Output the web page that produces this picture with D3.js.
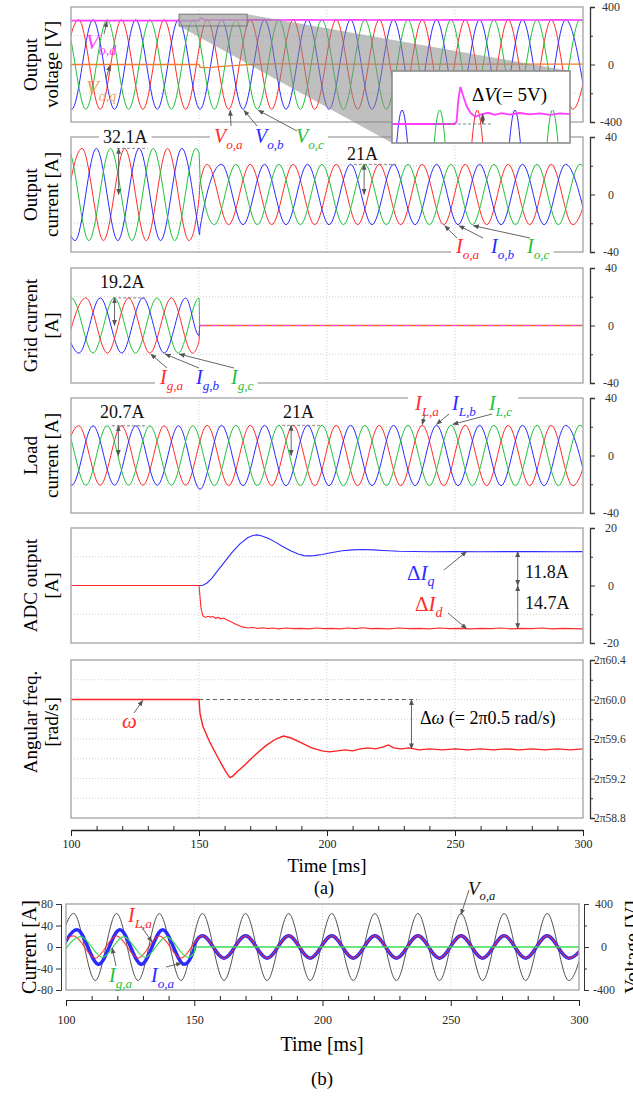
<!DOCTYPE html>
<html>
<head>
<meta charset="utf-8">
<script src="https://cdn.jsdelivr.net/npm/d3@7"></script>
<style>
  body { margin: 0; background: #fff; }
  text { font-family: "Liberation Serif", "Times New Roman", serif; }
</style>
</head>
<body>
<svg id="chart" width="633" height="1097"></svg>
<script>
// extrema of the traces, [time ms, value]
const voA = [[94.7,-312],[103.0,312],[111.4,-312],[119.7,312],[128.1,-312],[136.4,312],[144.8,-312],[153.2,312],[161.6,-312],[170.0,312],[178.4,-312],[186.8,312],[195.2,-312],[203.6,312],[212.0,-312],[220.4,312],[228.8,-312],[237.2,312],[245.6,-312],[254.0,312],[262.4,-312],[270.8,312],[279.2,-312],[287.6,312],[296.0,-312],[304.4,312]];
const voB = [[92.0,312],[100.3,-312],[108.6,312],[117.0,-312],[125.3,312],[133.7,-312],[142.0,312],[150.4,-312],[158.8,312],[167.2,-312],[175.6,312],[184.0,-312],[192.4,312],[200.8,-312],[209.2,312],[217.6,-312],[226.0,312],[234.4,-312],[242.8,312],[251.2,-312],[259.6,312],[268.0,-312],[276.4,312],[284.8,-312],[293.2,312],[301.6,-312]];
const voC = [[89.1,-312],[97.4,312],[105.8,-312],[114.1,312],[122.5,-312],[130.8,312],[139.2,-312],[147.6,312],[156.0,-312],[164.4,312],[172.8,-312],[181.2,312],[189.6,-312],[198.0,312],[206.4,-312],[214.8,312],[223.2,-312],[231.6,312],[240.0,-312],[248.4,312],[256.8,-312],[265.2,312],[273.6,-312],[282.0,312],[290.4,-312],[298.8,312],[307.2,-312]];
const voD = [[100,305],[149.8,305],[150.1,306],[150.4,318],[150.7,323.5],[151.1,319],[151.6,314],[152.2,310.5],[152.9,308.6],[153.8,309.8],[154.8,310.6],[155.8,309.6],[156.8,310.4],[158,309.7],[159.5,310.5],[161,309.8],[162.5,310.3],[164,309.6],[165.5,310.3],[167,309.9],[170,310.2],[180,309.9],[190,310.2],[200,309.9],[210,310.1],[220,309.8],[230,310.2],[240,309.9],[250,310.1],[260,309.8],[270,310.2],[280,309.9],[290,310.1],[300,310]];
const voQ = [[100,0],[150,0],[150.4,-18],[152,-22],[155,-20],[158,-15],[162,-9],[166,-4],[170,0],[175,3],[180,4.5],[190,4],[200,3],[220,2.5],[300,2.5]];

const ilA = [[94.7,-20.7],[103.0,20.7],[111.4,-20.7],[119.7,20.7],[128.1,-20.7],[136.4,20.7],[144.8,-20.7],[153.2,21],[161.6,-21],[170.0,21],[178.4,-21],[186.8,21],[195.2,-21],[203.6,21],[212.0,-21],[220.4,21],[228.8,-21],[237.2,21],[245.6,-21],[254.0,21],[262.4,-21],[270.8,21],[279.2,-21],[287.6,21],[296.0,-21],[304.4,21]];
const ilB = [[92.0,20.7],[100.3,-20.7],[108.6,20.7],[117.0,-20.7],[125.3,20.7],[133.7,-20.7],[142.0,20.7],[150.4,-23.5],[158.8,21],[167.2,-21],[175.6,21],[184.0,-21],[192.4,21],[200.8,-21],[209.2,21],[217.6,-21],[226.0,21],[234.4,-21],[242.8,21],[251.2,-21],[259.6,21],[268.0,-21],[276.4,21],[284.8,-21],[293.2,21],[301.6,-21]];
const ilC = [[89.1,-20.7],[97.4,20.7],[105.8,-20.7],[114.1,20.7],[122.5,-20.7],[130.8,20.7],[139.2,-20.7],[147.6,20.7],[156.0,-21],[164.4,21],[172.8,-21],[181.2,21],[189.6,-21],[198.0,21],[206.4,-21],[214.8,21],[223.2,-21],[231.6,21],[240.0,-21],[248.4,21],[256.8,-21],[265.2,21],[273.6,-21],[282.0,21],[290.4,-21],[298.8,21],[307.2,-21]];

// output current before islanding (after it, output current = load current)
const ioPreA = [[96.0,-32.1],[104.3,32.1],[112.7,-32.1],[121.0,32.1],[129.4,-32.1],[137.7,32.1],[146.1,-32.1],[150.0,-3],[150.4,8]];
const ioPreB = [[93.3,32.1],[101.6,-32.1],[109.9,32.1],[118.3,-32.1],[126.6,32.1],[135.0,-32.1],[143.3,32.1],[150.0,-26],[150.2,-28]];
const ioPreC = [[90.4,-32.1],[98.7,32.1],[107.0,-32.1],[115.4,32.1],[123.8,-32.1],[132.1,32.1],[140.5,-32.1],[148.8,32.1],[150.0,29],[150.5,10]];

const igA = [[97.5,-19.2],[105.8,19.2],[114.2,-19.2],[122.5,19.2],[130.8,-19.2],[139.2,19.2],[147.5,-19.2],[150.0,-11],[150.3,0],[300,0]];
const igB = [[94.8,19.2],[103.1,-19.2],[111.4,19.2],[119.8,-19.2],[128.1,19.2],[136.4,-19.2],[144.8,19.2],[150.0,-7],[150.3,0],[300,0]];
const igC = [[91.9,-19.2],[100.2,19.2],[108.6,-19.2],[116.9,19.2],[125.2,-19.2],[133.6,19.2],[141.9,-19.2],[150.0,19.1],[150.3,0],[300,0]];

const dIq = [[100,0],[150,0],[151.5,0.1],[153,0.8],[155,2.5],[157,4.8],[160,8.2],[163,11.6],[166,14.5],[169,16.6],[171,17.4],[172.5,17.6],[174,17.4],[177,16.4],[180,15],[183,13.4],[186,12],[189,10.9],[191,10.4],[193,10.3],[195,10.4],[198,10.8],[202,11.5],[206,12.1],[210,12.4],[214,12.5],[218,12.4],[222,12.2],[228,11.9],[234,11.8],[240,11.75],[250,11.8],[260,11.75],[270,11.8],[280,11.8],[290,11.75],[300,11.8]];
const dId = [[100,0],[150,0],[150.3,-3],[150.8,-8],[151.5,-10.6],[152.5,-11.1],[153.5,-10.7],[154.5,-11],[155.5,-10.8],[156.5,-11.4],[157.5,-11.1],[158.5,-11.6],[159.5,-11.3],[161,-12],[162.5,-12.6],[164,-13.3],[165.5,-13.9],[167,-14.4],[169,-14.8],[171,-14.6],[173,-14.9],[175,-14.7],[177,-15],[179,-14.8],[181,-15.1],[184,-14.8],[187,-15],[190,-14.9],[193,-15.1],[196,-14.8],[199,-15],[202,-14.9],[205,-15.1],[208,-14.8],[211,-15],[214,-14.7],[217,-15],[220,-14.9],[224,-15.1],[228,-14.8],[232,-15],[236,-14.9],[240,-15.1],[244,-14.8],[248,-15],[252,-14.9],[256,-15.1],[260,-14.9],[264,-15],[268,-14.8],[272,-15.1],[276,-14.9],[280,-15],[284,-14.8],[288,-15.1],[292,-14.9],[296,-15],[300,-15.1]];

// angular frequency in Hz (axis shows 2π×)
const omega = [[100,60.0],[150,60.0],[150.4,59.86],[151.5,59.73],[154,59.58],[157,59.43],[160,59.29],[162,59.21],[163,59.22],[165,59.27],[168,59.34],[172,59.44],[176,59.53],[180,59.6],[183,59.63],[186,59.61],[190,59.56],[194,59.51],[198,59.48],[201,59.47],[204,59.48],[207,59.49],[210,59.48],[213,59.5],[216,59.51],[219,59.5],[222,59.52],[224,59.54],[226,59.51],[229,59.5],[232,59.51],[236,59.49],[240,59.5],[245,59.49],[250,59.5],[255,59.49],[260,59.5],[265,59.49],[270,59.5],[275,59.49],[280,59.5],[285,59.49],[290,59.5],[295,59.49],[300,59.5]];

const timeTicks = [100,150,200,250,300];
const timeMinor = [110,120,130,140,160,170,180,190,210,220,230,240,260,270,280,290];
const timeGrid = [150,200,250];

const RED = "#ff2b2b", BLUE = "#2b2bff", GREEN = "#1fc23a", MAG = "#ff3cff", ORANGE = "#ef7d2f";

const svg = d3.select("#chart");
const defs = svg.append("defs");
defs.append("marker").attr("id", "ah")
  .attr("viewBox", "0 0 10 10").attr("refX", 9).attr("refY", 5)
  .attr("markerWidth", 6).attr("markerHeight", 6)
  .attr("markerUnits", "userSpaceOnUse")
  .attr("orient", "auto-start-reverse")
  .append("path").attr("d", "M0,1L10,5L0,9z").attr("fill", "#555");

const x = d3.scaleLinear().domain([100, 300]).range([71, 583]);
const AXIS_X = 590;

const panelCfg = [
  {id: "vo", top: 7, bottom: 122, domain: [-400, 400], major: [-400, 0, 400], minor: [-200, 200], grid: [-200, 200], title: ["Output", "voltage [V]"]},
  {id: "io", top: 137, bottom: 252, domain: [-40, 40], major: [-40, 0, 40], minor: [-20, 20], grid: [-20, 20], title: ["Output", "current [A]"]},
  {id: "ig", top: 268, bottom: 383, domain: [-40, 40], major: [-40, 0, 40], minor: [-20, 20], grid: [-20, 20], title: ["Grid current", "[A]"]},
  {id: "il", top: 398, bottom: 513, domain: [-40, 40], major: [-40, 0, 40], minor: [-20, 20], grid: [-20, 20], title: ["Load", "current [A]"]},
  {id: "adc", top: 528, bottom: 643, domain: [-20, 20], major: [-20, 0, 20], minor: [-10, 10], grid: [-10, 10], title: ["ADC output", "[A]"]},
  {id: "w", top: 660, bottom: 818, domain: [58.8, 60.4], major: [58.8, 59.2, 59.6, 60.0, 60.4], minor: [59.0, 59.4, 59.8, 60.2],
   grid: [59.0, 59.2, 59.4, 59.6, 59.8, 60.0, 60.2], title: ["Angular freq.", "[rad/s]"], titleY: 722,
   fmt: d => "2π" + d.toFixed(1), start: true}
];

function makePanel(cfg) {
  const g = svg.append("g").attr("class", "panel-" + cfg.id);
  const y = d3.scaleLinear().domain(cfg.domain).range([cfg.bottom, cfg.top]);
  const [x0, x1] = x.range();

  defs.append("clipPath").attr("id", "clip-" + cfg.id).append("rect")
    .attr("x", x0).attr("y", cfg.top).attr("width", x1 - x0).attr("height", cfg.bottom - cfg.top);

  g.selectAll(".vg").data(timeGrid).join("line")
    .attr("x1", d => x(d)).attr("x2", d => x(d)).attr("y1", cfg.top).attr("y2", cfg.bottom)
    .attr("stroke", "#d0d0d0").attr("stroke-dasharray", "1,2");
  g.selectAll(".hg").data(cfg.grid).join("line")
    .attr("x1", x0).attr("x2", x1).attr("y1", d => y(d)).attr("y2", d => y(d))
    .attr("stroke", "#d0d0d0").attr("stroke-dasharray", "1,2");

  const plot = g.append("g").attr("clip-path", `url(#clip-${cfg.id})`);

  g.append("rect").attr("x", x0).attr("y", cfg.top).attr("width", x1 - x0).attr("height", cfg.bottom - cfg.top)
    .attr("fill", "none").attr("stroke", "#a8a8a8").attr("stroke-width", 1.4);

  // right axis, bracket shaped
  const ax = g.append("g").attr("transform", `translate(${AXIS_X},0)`)
    .attr("color", "#333")
    .call(d3.axisRight(y).tickValues(cfg.major).tickSize(5).tickSizeOuter(5)
      .tickFormat(cfg.fmt || (d => String(d))));
  ax.attr("font-family", null).attr("font-size", null);
  ax.select(".domain").attr("stroke-width", 1.3);
  if (cfg.start) {
    ax.selectAll("text").attr("x", 4).style("font-size", "11.5px");
  } else {
    ax.selectAll("text").attr("text-anchor", "middle").attr("x", 21).style("font-size", "12px");
  }
  g.append("g").attr("transform", `translate(${AXIS_X},0)`).attr("color", "#333")
    .call(d3.axisRight(y).tickValues(cfg.minor).tickSize(3).tickFormat(""))
    .call(a => a.select(".domain").remove());

  const cy = cfg.titleY || (cfg.top + cfg.bottom) / 2;
  [[cfg.title[0], 37], [cfg.title[1], 58]].forEach(([t, bx]) => {
    svg.append("text").attr("transform", `translate(${bx},${cy}) rotate(-90)`)
      .attr("text-anchor", "middle").style("font-size", "19px").text(t);
  });

  return {g, plot, y};
}

const P = panelCfg.map(makePanel);

function trace(panel, data, color, width, curve) {
  panel.plot.append("path").datum(data)
    .attr("d", d3.line().x(d => x(d[0])).y(d => panel.y(d[1])).curve(curve || d3.curveMonotoneX))
    .attr("fill", "none").attr("stroke", color).attr("stroke-width", width || 1);
}

// panel 1: output voltage
trace(P[0], voA, RED); trace(P[0], voB, BLUE); trace(P[0], voC, GREEN);
trace(P[0], voQ, ORANGE, 1.3, d3.curveLinear);
trace(P[0], voD, MAG, 1.6, d3.curveLinear);

// panel 2: output current
const ioA = ioPreA.concat(ilA.filter(d => d[0] > 150.4));
const ioB = ioPreB.concat(ilB.filter(d => d[0] >= 150.4));
const ioC = ioPreC.concat(ilC.filter(d => d[0] > 150.5));
trace(P[1], ioA, RED); trace(P[1], ioB, BLUE); trace(P[1], ioC, GREEN);

// panel 3: grid current (all three sit on zero after islanding)
trace(P[2], igC, GREEN); trace(P[2], igB, BLUE); trace(P[2], igA, RED);
trace(P[2], igA.filter(d => d[0] >= 150.3), "#e8602c", 1.4, d3.curveLinear);
P[2].plot.append("line").attr("x1", x(150.3)).attr("x2", x(300)).attr("y1", P[2].y(0)).attr("y2", P[2].y(0))
  .attr("stroke", MAG).attr("stroke-width", 1.2).attr("stroke-dasharray", "5,7");

// panel 4: load current
trace(P[3], ilA, RED); trace(P[3], ilB, BLUE); trace(P[3], ilC, GREEN);

// panel 5: ADC output
trace(P[4], dIq, BLUE, 1.1, d3.curveLinear);
trace(P[4], dId, RED, 1.1, d3.curveLinear);

// panel 6: angular frequency
trace(P[5], omega, "#ff2020", 1.4, d3.curveLinear);

// time axis for (a)
const tAx = svg.append("g").attr("transform", "translate(0,830)").attr("color", "#222");
tAx.call(d3.axisBottom(x).tickValues(timeTicks).tickSize(6).tickSizeOuter(0).tickFormat(d => d));
tAx.attr("font-family", null).attr("font-size", null);
tAx.select(".domain").attr("stroke-width", 1.3);
tAx.selectAll("text").style("font-size", "12px").attr("y", 9);
svg.append("g").attr("transform", "translate(0,830)").attr("color", "#222")
  .call(d3.axisBottom(x).tickValues(timeMinor).tickSize(-4).tickFormat(""))
  .call(a => a.select(".domain").remove());
svg.append("text").attr("x", 327).attr("y", 872).attr("text-anchor", "middle").style("font-size", "19px").text("Time [ms]");
svg.append("text").attr("x", 324).attr("y", 894).attr("text-anchor", "middle").style("font-size", "18px").text("(a)");

// ---- annotations ----
const ann = svg.append("g");

function arrow(g, x1, y1, x2, y2, both) {
  const l = g.append("line").attr("x1", x1).attr("y1", y1).attr("x2", x2).attr("y2", y2)
    .attr("stroke", "#555").attr("stroke-width", 0.9).attr("marker-end", "url(#ah)");
  if (both) l.attr("marker-start", "url(#ah)");
}
function dashed(g, x1, x2, yy) {
  g.append("line").attr("x1", x1).attr("x2", x2).attr("y1", yy).attr("y2", yy)
    .attr("stroke", "#777").attr("stroke-width", 0.9).attr("stroke-dasharray", "3,2");
}
function subLabel(g, px, py, main, sub, color, size, deltaFirst) {
  const t = g.append("text").attr("x", px).attr("y", py).attr("fill", color).style("font-size", size + "px");
  if (deltaFirst) t.append("tspan").text("Δ");
  t.append("tspan").style("font-style", "italic").text(main);
  t.append("tspan").attr("dy", size * 0.28).style("font-style", "italic").style("font-size", (size * 0.66) + "px").text(sub);
  return t;
}
function plain(g, px, py, s, size, color) {
  return g.append("text").attr("x", px).attr("y", py).attr("fill", color || "#111").style("font-size", size + "px").text(s);
}
function whiteBehind(g, pad) {
  const b = g.node().getBBox();
  g.insert("rect", ":first-child").attr("x", b.x - pad).attr("y", b.y + 1).attr("width", b.width + 2 * pad)
    .attr("height", b.height - 2).attr("fill", "#fff");
}

// zoom callout on panel 1
const y1 = P[0].y;
const xi = d3.scaleLinear().domain([140.5, 167]).range([392, 570]);
const yi = d3.scaleLinear().domain([295.5, 331.5]).range([143, 71]);
const sx0 = x(142.2), sx1 = x(168.8), sy0 = y1(350), sy1 = y1(268);
ann.append("polygon")
  .attr("points", [[sx0, sy0], [sx1, sy0], [xi.range()[1], yi.range()[1]], [xi.range()[1], yi.range()[0]], [xi.range()[0], yi.range()[0]], [sx0, sy1]].join(" "))
  .attr("fill", "#8a8a8a").attr("opacity", 0.55);
ann.append("rect").attr("x", sx0).attr("y", sy0).attr("width", sx1 - sx0).attr("height", sy1 - sy0)
  .attr("fill", "#bbb").attr("fill-opacity", 0.4).attr("stroke", "#777").attr("stroke-width", 1);

const inset = ann.append("g");
defs.append("clipPath").attr("id", "clip-inset").append("rect")
  .attr("x", 392).attr("y", 71).attr("width", 178).attr("height", 72);
inset.append("rect").attr("x", 392).attr("y", 71).attr("width", 178).attr("height", 72).attr("fill", "#fff");
const ip = inset.append("g").attr("clip-path", "url(#clip-inset)");
[[voA, RED], [voB, BLUE], [voC, GREEN]].forEach(([d, c]) => {
  ip.append("path").datum(d).attr("d", d3.line().x(p => xi(p[0])).y(p => yi(p[1])).curve(d3.curveMonotoneX))
    .attr("fill", "none").attr("stroke", c).attr("stroke-width", 1);
});
ip.append("path").datum(voD).attr("d", d3.line().x(p => xi(p[0])).y(p => yi(p[1])))
  .attr("fill", "none").attr("stroke", MAG).attr("stroke-width", 1.8);
dashed(inset, xi(146.6), xi(155.5), yi(305));
arrow(inset, xi(154), yi(305), xi(154), yi(310), true);
const dv = inset.append("text").attr("x", 472).attr("y", 101).style("font-size", "19px");
dv.append("tspan").text("Δ");
dv.append("tspan").style("font-style", "italic").text("V");
dv.append("tspan").text("(= 5V)");
inset.append("rect").attr("x", 392).attr("y", 71).attr("width", 178).attr("height", 72)
  .attr("fill", "none").attr("stroke", "#8c8c8c").attr("stroke-width", 1.6);

// panel 1 labels
subLabel(ann, 86, 49, "V", "o,d", MAG, 21);
arrow(ann, 104, 34, 107, y1(305) + 1);
subLabel(ann, 86, 95, "V", "o,q", "#e6a46c", 21);
arrow(ann, 106, 79, 110, y1(2) + 1);

const voLab = ann.append("g");
subLabel(voLab, 214, 143, "V", "o,a", RED, 20);
subLabel(voLab, 255, 143, "V", "o,b", BLUE, 20);
subLabel(voLab, 296, 143, "V", "o,c", GREEN, 20);
whiteBehind(voLab, 4);
arrow(ann, 231, 126, x(162.2), y1(-312) + 1);
arrow(ann, 257, 126, x(167.6), y1(-312) + 1);
arrow(ann, 297, 131, x(173.2), y1(-312) + 1);

// panel 2 labels
const y2 = P[1].y;
const l32 = ann.append("g");
plain(l32, 103, 143, "32.1A", 18);
whiteBehind(l32, 4);
dashed(ann, x(118), x(130), y2(32.1));
arrow(ann, x(118.6), y2(32.1), x(118.6), y2(0), true);
plain(ann, 347, 160, "21A", 18);
dashed(ann, x(210.5), x(227), y2(21));
arrow(ann, x(214.5), y2(21), x(214.5), y2(0), true);
const ioLab = ann.append("g");
subLabel(ioLab, 456, 253, "I", "o,a", RED, 20);
subLabel(ioLab, 491, 253, "I", "o,b", BLUE, 20);
subLabel(ioLab, 527, 253, "I", "o,c", GREEN, 20);
whiteBehind(ioLab, 4);
arrow(ann, 457, 238, x(245.6) + 1, y2(-21) + 1);
arrow(ann, 483, 238, x(251.2) + 1, y2(-21) + 1);
arrow(ann, 530, 238, x(256.8) + 1, y2(-21) + 1);

// panel 3 labels
const y3 = P[2].y;
plain(ann, 100, 288, "19.2A", 18);
dashed(ann, x(116.5), x(129), y3(19.2));
arrow(ann, x(117), y3(19.2), x(117), y3(0), true);
const igLab = ann.append("g");
subLabel(igLab, 160, 384, "I", "g,a", RED, 20);
subLabel(igLab, 196, 384, "I", "g,b", BLUE, 20);
subLabel(igLab, 231, 384, "I", "g,c", GREEN, 20);
whiteBehind(igLab, 4);
arrow(ann, 167, 368, x(130.8) + 1, y3(-19.2) + 1);
arrow(ann, 199, 368, x(136.4) + 1, y3(-19.2) + 1);
arrow(ann, 234, 368, x(141.9) + 1, y3(-19.2) + 1);

// panel 4 labels
const y4 = P[3].y;
plain(ann, 100, 418, "20.7A", 18);
dashed(ann, x(116), x(129.5), y4(20.7));
arrow(ann, x(118.5), y4(20.7), x(118.5), y4(0), true);
plain(ann, 283, 418, "21A", 18);
dashed(ann, x(182.5), x(198), y4(21));
arrow(ann, x(186), y4(21), x(186), y4(0), true);
const ilLab = ann.append("g");
subLabel(ilLab, 415, 410, "I", "L,a", RED, 20);
subLabel(ilLab, 452, 410, "I", "L,b", BLUE, 20);
subLabel(ilLab, 489, 410, "I", "L,c", GREEN, 20);
whiteBehind(ilLab, 6);
arrow(ann, 425, 414, x(237.2), y4(21) - 1);
arrow(ann, 449, 414, x(242.8), y4(21) - 1);
arrow(ann, 492, 414, x(248.4) + 2, y4(21) - 1);

// panel 5 labels
const y5 = P[4].y;
subLabel(ann, 407, 580, "I", "q", BLUE, 21, true);
subLabel(ann, 415, 611, "I", "d", RED, 21, true);
arrow(ann, 444, 570, x(254.5), y5(11.8));
arrow(ann, 448, 613, x(254.5), y5(-15));
arrow(ann, x(274.5), y5(11.8), x(274.5), y5(0), true);
arrow(ann, x(274.5), y5(0), x(274.5), y5(-15), true);
plain(ann, 525, 578, "11.8A", 18);
plain(ann, 525, 609, "14.7A", 18);

// panel 6 labels
const y6 = P[5].y;
ann.append("line").attr("x1", x(150)).attr("x2", x(235)).attr("y1", y6(60.0)).attr("y2", y6(60.0))
  .attr("stroke", "#555").attr("stroke-width", 0.9).attr("stroke-dasharray", "4,3");
arrow(ann, x(233), y6(60.0), x(233), y6(59.5), true);
const dw = ann.append("text").attr("x", 420).attr("y", 724).style("font-size", "18px");
dw.append("tspan").text("Δ");
dw.append("tspan").style("font-style", "italic").text("ω");
dw.append("tspan").text(" (= 2π0.5 rad/s)");
ann.append("text").attr("x", 122).attr("y", 728).attr("fill", RED).style("font-size", "21px").style("font-style", "italic").text("ω");
arrow(ann, 134, 713, x(128), y6(60.0) + 1);

// ---- panel (b) ----
const bTop = 904, bBot = 990, bL = 66, bR = 579;
const xb = d3.scaleLinear().domain([100, 300]).range([bL, bR]);
const yCur = d3.scaleLinear().domain([-80, 80]).range([bBot, bTop]);
const yVolt = d3.scaleLinear().domain([-400, 400]).range([bBot, bTop]);
const gb = svg.append("g");
defs.append("clipPath").attr("id", "clip-b").append("rect")
  .attr("x", bL).attr("y", bTop).attr("width", bR - bL).attr("height", bBot - bTop);
gb.selectAll(".vg").data(timeGrid).join("line")
  .attr("x1", d => xb(d)).attr("x2", d => xb(d)).attr("y1", bTop).attr("y2", bBot)
  .attr("stroke", "#d0d0d0").attr("stroke-dasharray", "1,2");
gb.selectAll(".hg").data([-40, 40]).join("line")
  .attr("x1", bL).attr("x2", bR).attr("y1", d => yCur(d)).attr("y2", d => yCur(d))
  .attr("stroke", "#d0d0d0").attr("stroke-dasharray", "1,2");
const bp = gb.append("g").attr("clip-path", "url(#clip-b)");
const lineB = (ys) => d3.line().x(d => xb(d[0])).y(d => ys(d[1])).curve(d3.curveMonotoneX);
bp.append("path").datum(voA).attr("d", lineB(yVolt)).attr("fill", "none").attr("stroke", "#555").attr("stroke-width", 1);
bp.append("path").datum(ioA).attr("d", lineB(yCur)).attr("fill", "none").attr("stroke", BLUE).attr("stroke-width", 3.4);
bp.append("path").datum(ilA).attr("d", lineB(yCur)).attr("fill", "none").attr("stroke", RED).attr("stroke-width", 1.2).attr("stroke-opacity", 0.85);
bp.append("path").datum(igA).attr("d", lineB(yCur)).attr("fill", "none").attr("stroke", "#3ddc55").attr("stroke-width", 1.3);
gb.append("rect").attr("x", bL).attr("y", bTop).attr("width", bR - bL).attr("height", bBot - bTop)
  .attr("fill", "none").attr("stroke", "#a8a8a8").attr("stroke-width", 1.4);

const lAx = gb.append("g").attr("transform", `translate(${bL - 5},0)`).attr("color", "#333")
  .call(d3.axisLeft(yCur).tickValues([-80, -40, 0, 40, 80]).tickSize(5).tickSizeOuter(5).tickFormat(d => String(d)));
lAx.attr("font-family", null).attr("font-size", null);
lAx.selectAll("text").style("font-size", "12px");
const rAx = gb.append("g").attr("transform", `translate(${bR + 5},0)`).attr("color", "#333")
  .call(d3.axisRight(yVolt).tickValues([-400, 0, 400]).tickSize(5).tickSizeOuter(5).tickFormat(d => String(d)));
rAx.attr("font-family", null).attr("font-size", null);
rAx.selectAll("text").attr("text-anchor", "middle").attr("x", 20).style("font-size", "12px");
gb.append("g").attr("transform", `translate(${bR + 5},0)`).attr("color", "#333")
  .call(d3.axisRight(yVolt).tickValues([-200, 200]).tickSize(3).tickFormat(""))
  .call(a => a.select(".domain").remove());
const bAx = gb.append("g").attr("transform", "translate(0,1000)").attr("color", "#222")
  .call(d3.axisBottom(xb).tickValues(timeTicks).tickSize(6).tickSizeOuter(0).tickFormat(d => d));
bAx.attr("font-family", null).attr("font-size", null);
bAx.selectAll("text").style("font-size", "12px").attr("y", 15);
gb.append("g").attr("transform", "translate(0,1000)").attr("color", "#222")
  .call(d3.axisBottom(xb).tickValues(timeMinor).tickSize(-4).tickFormat(""))
  .call(a => a.select(".domain").remove());

const bMid = (bTop + bBot) / 2;
gb.append("text").attr("transform", `translate(36,${bMid}) rotate(-90)`).attr("text-anchor", "middle").style("font-size", "20px").text("Current [A]");
gb.append("text").attr("transform", `translate(639,${bMid}) rotate(-90)`).attr("text-anchor", "middle").style("font-size", "20px").text("Voltage [V]");
gb.append("text").attr("x", 322).attr("y", 1051).attr("text-anchor", "middle").style("font-size", "20px").text("Time [ms]");
gb.append("text").attr("x", 322).attr("y", 1085).attr("text-anchor", "middle").style("font-size", "19px").text("(b)");

subLabel(gb, 128, 922, "I", "L,a", RED, 20);
arrow(gb, 141, 926, xb(133.5), yCur(9.7));
subLabel(gb, 109, 982, "I", "g,a", GREEN, 20);
arrow(gb, 116, 966, xb(118), yCur(-2));
subLabel(gb, 151, 982, "I", "o,a", BLUE, 20);
arrow(gb, 166, 967, xb(145), yCur(-30));
subLabel(gb, 468, 895, "V", "o,a", "#111", 19);
arrow(gb, 469, 890, xb(254), yVolt(312) + 1);
</script>
</body>
</html>
